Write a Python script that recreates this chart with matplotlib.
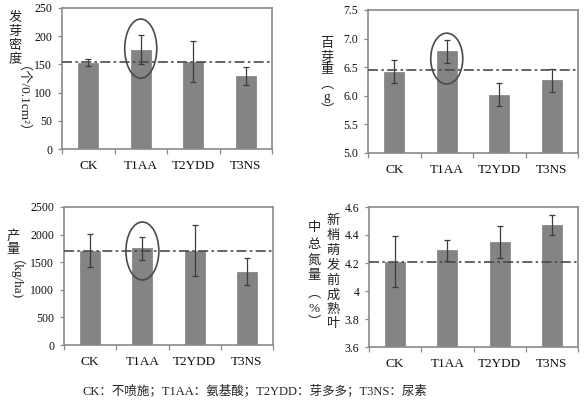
import matplotlib
matplotlib.use("Agg")
import matplotlib.pyplot as plt
from matplotlib.patches import Ellipse
from matplotlib.ticker import FuncFormatter, FixedLocator
import numpy as np

categories = ['CK', 'T1AA', 'T2YDD', 'T3NS']

density = [153, 176, 155, 129]
density_err = [6, 26, 37, 16]
density_ref = 155

weight = [6.42, 6.78, 6.02, 6.27]
weight_err = [0.2, 0.2, 0.2, 0.2]
weight_ref = 6.45

yield_vals = [1710, 1750, 1710, 1330]
yield_err = [300, 210, 465, 250]
yield_ref = 1710

nitrogen = [4.21, 4.29, 4.35, 4.47]
nitrogen_err = [0.18, 0.075, 0.115, 0.07]
nitrogen_ref = 4.21

caption = "CK：不喷施；T1AA：氨基酸；T2YDD：芽多多；T3NS：尿素"

W, H = 588, 403
fig = plt.figure(figsize=(W / 100, H / 100), dpi=100)

SERIF = 'Liberation Serif'
CJK = 'Noto Sans CJK SC'
SPINE = '#8a8a8a'
BAR = '#848484'
ERR = '#3c3c3c'
REF = '#4a4a4a'


def rect(l, t, r, b):
    return [l / W, 1 - b / H, (r - l) / W, (b - t) / H]


def panel(pos, vals, errs, ref, ylim, yticks, fmt, ellipse=None):
    ax = fig.add_axes(rect(*pos))
    x = np.arange(len(categories))
    ax.bar(x, vals, width=0.38, color=BAR, edgecolor='#6e6e6e', linewidth=0.4, zorder=2)
    ax.errorbar(x, vals, yerr=errs, fmt='none', ecolor=ERR, elinewidth=0.9,
                capsize=2.2, capthick=0.9, zorder=3)
    ax.axhline(ref, color=REF, linestyle=(0, (6, 2, 1.5, 2)), linewidth=1.2, zorder=4)
    ax.set_xlim(-0.5, 3.5)
    ax.set_ylim(*ylim)
    ax.set_yticks(yticks)
    ax.yaxis.set_major_formatter(FuncFormatter(fmt))
    ax.set_xticks(x)
    ax.set_xticklabels(categories, fontfamily=SERIF, fontsize=9.5, color='#111')
    ax.xaxis.set_minor_locator(FixedLocator(np.arange(-0.5, 4, 1.0)))
    ax.tick_params(axis='x', which='major', length=0, pad=8)
    ax.tick_params(axis='x', which='minor', length=3.5, width=0.9, color=SPINE, direction='out')
    ax.tick_params(axis='y', length=3, width=0.9, color=SPINE, direction='out', pad=4)
    for lab in ax.get_yticklabels():
        lab.set_fontfamily(SERIF)
        lab.set_fontsize(8.5)
        lab.set_color('#111')
    for s in ax.spines.values():
        s.set_color(SPINE)
        s.set_linewidth(1.2)
    if ellipse is not None:
        cx, cy, ew, eh = ellipse
        ax.add_patch(Ellipse((cx, cy), ew, eh, fill=False, edgecolor='#4a4a4a',
                             linewidth=1.2, zorder=5))
    return ax


panel((62, 8, 272, 149), density, density_err, density_ref, (0, 250),
      [0, 50, 100, 150, 200, 250], lambda v, p: '%d' % v, ellipse=(1, 178, 0.61, 105))
panel((368, 10, 578, 153), weight, weight_err, weight_ref, (5.0, 7.5),
      [5.0, 5.5, 6.0, 6.5, 7.0, 7.5], lambda v, p: '%.1f' % v, ellipse=(1, 6.65, 0.61, 0.89))
panel((64, 207, 273, 345), yield_vals, yield_err, yield_ref, (0, 2500),
      [0, 500, 1000, 1500, 2000, 2500], lambda v, p: '%d' % v, ellipse=(1, 1703, 0.63, 1050))
panel((369, 207, 578, 347), nitrogen, nitrogen_err, nitrogen_ref, (3.6, 4.6),
      [3.6, 3.8, 4.0, 4.2, 4.4, 4.6], lambda v, p: '%g' % round(v, 2))


def ptext(x, y, s, rot=0, size=9.5, family=None):
    fam = family if family is not None else [CJK, 'DejaVu Sans']
    fig.text(x / W, 1 - y / H, s, rotation=rot, ha='center', va='center',
             fontsize=size, fontfamily=fam, color='#222')


# Panel 1 y label
for ch, y in zip("发芽密度", [17, 32, 46, 60]):
    ptext(15, y, ch)
ptext(15, 106, "（个/0.1cm²）", rot=270, size=9.5, family=[SERIF, CJK])

# Panel 2 y label
for ch, y in zip("百芽重︵g︶", [43, 57, 70, 84, 97, 110]):
    ptext(327, y, ch, family=[CJK, SERIF] if ch != 'g' else [SERIF])

# Panel 3 y label
for ch, y in zip("产量", [236, 250]):
    ptext(13, y, ch)
ptext(9, 284, "（kg/ha)", rot=270, size=9.5, family=[SERIF, CJK])

# Panel 4 y label (two columns)
for ch, y in zip("新梢萌发前成熟叶", [220, 235, 250, 265, 280, 295, 310, 324]):
    ptext(333, y, ch)
for ch, y in zip("中总氮量︵%︶", [228, 244, 260, 276, 293, 309, 323]):
    ptext(314, y, ch, family=[CJK, SERIF] if ch != '%' else [SERIF])

# Caption
fig.text(255 / W, 1 - 391 / H, caption, ha='center', va='center', fontsize=9,
         fontfamily=[SERIF, CJK], color='#222')

fig.savefig('out.png', dpi=100)
